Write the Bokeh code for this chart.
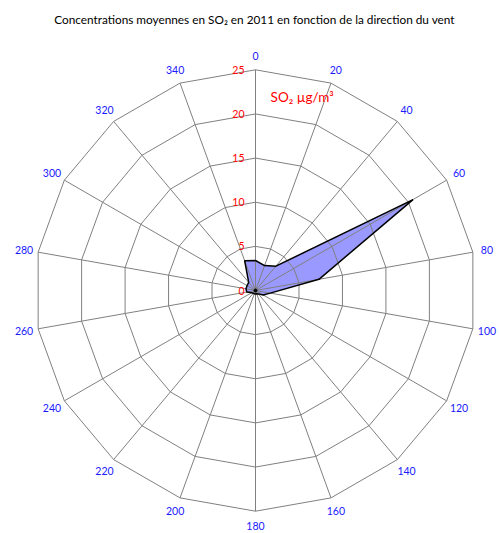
import numpy as np
from bokeh.plotting import figure
from bokeh.models import Range1d
from bokeh.core.properties import value
from bokeh.embed import file_html
from bokeh.resources import INLINE

# ---- data ----
directions = [0, 20, 40, 60, 80, 100, 120, 140, 160, 180, 200, 220, 240, 260, 280, 300, 320, 340]
so2 = [3.4, 3.0, 3.6, 20.6, 7.3, 1.7, 1.0, 0.5, 0.4, 0.4, 0.4, 0.4, 0.5, 1.0, 1.1, 1.1, 1.2, 3.6]
ring_values = [0, 5, 10, 15, 20, 25]
ring_labels = ["0", "5", "10", "15", "20", "25"]
title_text = "Concentrations moyennes en SO\u2082 en 2011 en fonction de la direction du vent"
unit_text = "SO\u2082 \u00b5g/m\u00b3"

# ---- layout ----
W, H = 499, 533
cx, cy = 255, 290          # chart centre in figure pixels (from left / top)
rmax = max(ring_values)
scale = 220.7 / rmax       # pixels per unit

p = figure(width=W, height=H, output_backend="svg", toolbar_location=None,
           x_range=Range1d(-cx / scale, (W - cx) / scale),
           y_range=Range1d(-(H - cy) / scale, cy / scale),
           min_border=0, x_axis_type=None, y_axis_type=None)
p.xgrid.visible = False
p.ygrid.visible = False
p.outline_line_color = None
p.background_fill_color = "white"
p.border_fill_color = "white"

theta = np.radians(directions)
sx, sy = np.sin(theta), np.cos(theta)

# data polygon fill
vals = np.array(so2)
px, py = vals * sx, vals * sy
p.patch(list(px), list(py), fill_color="#9999ff", line_color=None)

# grid rings (polygonal)
for rv in ring_values[1:]:
    xs = list(rv * sx) + [rv * sx[0]]
    ys = list(rv * sy) + [rv * sy[0]]
    p.line(xs, ys, line_color="#808080", line_width=1)

# spokes
p.multi_line([[0, rmax * a] for a in sx], [[0, rmax * b] for b in sy],
             line_color="#808080", line_width=1)

# data outline
p.line(list(px) + [px[0]], list(py) + [py[0]], line_color="black", line_width=1.5)
p.scatter([0], [0], size=3, color="black")

# direction labels
lab_r = 235 / scale
lx = np.clip(lab_r * sx, -(cx - 12) / scale, (W - cx - 12) / scale)
ly = np.clip(lab_r * sy, -(H - cy - 8) / scale, (cy - 14) / scale)
p.text(list(lx), list(ly), text=[str(d) for d in directions],
       text_align="center", text_baseline="middle", text_color="#1a1aff",
       text_font=value("Lato"), text_font_size="10.5px")

# radial value labels
p.text([-11 / scale] * len(ring_values), ring_values, text=ring_labels,
       text_align="right", text_baseline="middle", text_color="#ff0000",
       text_font=value("Lato"), text_font_size="10.5px")

# unit label
p.text([46.7 / scale], [193.3 / scale], text=[unit_text],
       text_align="center", text_baseline="middle", text_color="#ff0000",
       text_font=value("Lato"), text_font_size="13.5px")

# title
p.text([(254 - cx) / scale], [(cy - 19) / scale], text=[title_text],
       text_align="center", text_baseline="middle", text_color="black",
       text_font=value("Lato"), text_font_size="11.8px")

open("out.html", "w").write(file_html(p, INLINE))
